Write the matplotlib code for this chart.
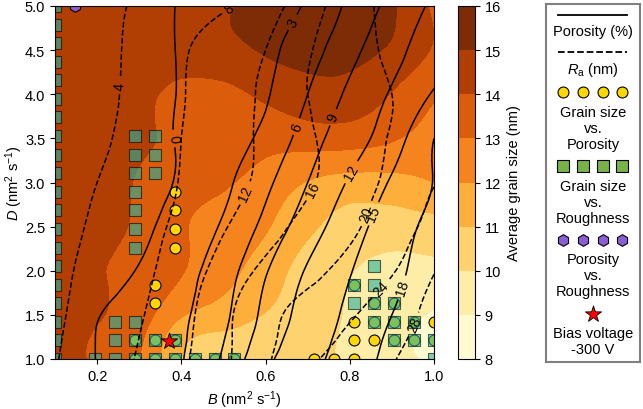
import numpy as np
import matplotlib
matplotlib.use("Agg")
import matplotlib.pyplot as plt
import matplotlib.tri as mtri

plt.rcParams.update({
    "font.family": "Liberation Sans",
    "font.size": 10.5,
    "mathtext.fontset": "custom",
    "mathtext.rm": "Liberation Sans",
    "mathtext.it": "Liberation Sans:italic",
})

# grid of the response surfaces
B_grid = [0.1, 0.2, 0.3, 0.4, 0.5, 0.6, 0.7, 0.8, 0.9, 1.0]
D_grid = [1.0, 1.25, 1.5, 2.0, 2.5, 3.0, 3.5, 4.0, 4.5, 5.0]

# average grain size (nm), one row per D value
grain = [
    [14.3, 13.9, 13.0, 11.0, 10.7, 10.45, 10.2, 9.85, 9.3, 8.9],
    [14.3, 13.95, 13.2, 11.3, 10.85, 10.55, 10.3, 9.85, 9.3, 8.7],
    [14.3, 14.05, 13.45, 12.1, 11.5, 10.95, 10.45, 9.9, 9.4, 8.9],
    [14.3, 14.1, 13.55, 13.05, 12.35, 11.5, 10.6, 10.05, 9.7, 9.75],
    [14.3, 14.15, 13.85, 13.1, 12.7, 12.1, 11.2, 10.6, 10.5, 10.6],
    [14.3, 14.15, 13.95, 13.5, 13.1, 12.6, 11.95, 11.6, 11.65, 12.0],
    [14.3, 14.2, 14.1, 13.8, 13.5, 13.35, 13.45, 13.45, 13.1, 12.7],
    [14.35, 14.3, 14.15, 13.8, 13.75, 14.2, 14.6, 14.6, 13.95, 13.1],
    [14.45, 14.45, 14.45, 14.5, 14.7, 15.1, 15.35, 15.3, 14.85, 13.9],
    [14.5, 14.55, 14.6, 14.7, 14.9, 15.35, 15.6, 15.5, 15.1, 13.8],
]

# porosity (%)
porosity = [
    [-1.8, 0.07, 1.47, 2.86, 6.46, 11.25, 14.04, 16.44, 18.84, 21.2],
    [-1.8, 0.07, 1.4, 2.73, 5.82, 10.4, 13.56, 16.0, 18.5, 21.0],
    [-2.2, -0.14, 1.23, 2.59, 5.33, 9.8, 13.1, 15.6, 18.0, 20.4],
    [-3.4, -1.6, 0.19, 2.06, 4.58, 8.75, 12.26, 14.85, 17.19, 19.5],
    [-3.4, -2.5, -0.8, 1.24, 3.33, 6.86, 10.58, 13.74, 16.5, 19.0],
    [-3.4, -2.6, -1.2, 0.31, 2.38, 5.33, 9.0, 12.3, 15.3, 18.1],
    [-3.0, -2.0, -0.9, 0.23, 1.77, 3.75, 7.5, 10.7, 13.7, 18.0],
    [-3.6, -2.4, -1.1, 0.19, 1.47, 2.74, 6.0, 9.55, 12.3, 15.3],
    [-3.2, -2.1, -0.96, 0.17, 1.30, 2.43, 4.67, 8.09, 11.04, 13.8],
    [-2.8, -1.8, -0.84, 0.15, 1.13, 2.11, 3.33, 6.67, 9.82, 12.55],
]

# roughness Ra (nm)
roughness = [
    [3.8, 6.0, 8.3, 11.3, 15.2, 19.4, 23.2, 25.7, 27.8, 29.5],
    [3.6, 5.84, 8.0, 11.0, 15.1, 19.05, 22.1, 24.7, 27.2, 29.0],
    [3.4, 5.6, 7.7, 10.7, 15.0, 18.8, 21.4, 23.6, 26.3, 29.1],
    [3.1, 5.1, 7.1, 9.83, 13.5, 16.8, 18.9, 21.2, 23.7, 27.8],
    [2.6, 4.6, 6.6, 8.86, 11.7, 14.57, 17.1, 19.3, 22.1, 25.0],
    [2.0, 4.0, 6.08, 8.18, 10.5, 12.9, 15.5, 18.1, 20.9, 23.8],
    [1.5, 3.2, 5.58, 8.0, 10.3, 12.74, 15.5, 17.9, 20.2, 21.0],
    [1.5, 2.9, 5.16, 7.74, 10.16, 12.75, 16.0, 18.0, 20.0, 21.0],
    [1.5, 3.0, 4.9, 7.5, 9.78, 12.0, 15.6, 18.4, 20.6, 21.5],
    [1.4, 2.9, 4.46, 6.0, 7.54, 10.33, 14.2, 18.2, 21.0, 22.0],
]

grain_levels = [8, 9, 10, 11, 12, 13, 14, 15, 16]
poro_levels = [0, 3, 6, 9, 12, 15, 18]
ra_levels = [4, 8, 12, 16, 20, 24, 28]

# grain size vs. porosity points
circ_B = [0.384, 0.384, 0.384, 0.384, 0.337, 0.337,
          0.289, 0.289, 0.337, 0.337, 0.384, 0.384, 0.432, 0.479, 0.526,
          0.716, 0.763, 0.811, 0.811, 0.811, 0.811,
          0.858, 0.858, 0.858, 0.905, 0.905, 0.905, 0.953, 0.953, 1.0, 1.0]
circ_D = [2.263, 2.474, 2.684, 2.895, 1.632, 1.842,
          1.0, 1.211, 1.0, 1.211, 1.0, 1.211, 1.0, 1.0, 1.0,
          1.0, 1.0, 1.0, 1.211, 1.421, 1.842,
          1.211, 1.421, 1.632, 1.211, 1.421, 1.632, 1.211, 1.421, 1.211, 1.421]

# grain size vs. roughness points
sq_B = [0.1] * 20 + [0.195, 0.242, 0.242, 0.242,
                     0.289, 0.289, 0.289, 0.289, 0.289, 0.289, 0.289, 0.289, 0.289, 0.289,
                     0.337, 0.337, 0.337, 0.337, 0.337, 0.384, 0.384, 0.432, 0.479, 0.526,
                     0.811, 0.811, 0.858, 0.858, 0.858, 0.858,
                     0.905, 0.905, 0.905, 0.953, 0.953, 1.0, 1.0]
sq_D = [1.0, 1.211, 1.421, 1.632, 1.842, 2.053, 2.263, 2.474, 2.684, 2.895,
        3.105, 3.316, 3.526, 3.737, 3.947, 4.158, 4.368, 4.579, 4.789, 5.0] + \
       [1.0, 1.0, 1.211, 1.421,
        1.0, 1.211, 1.421, 2.263, 2.474, 2.684, 2.895, 3.105, 3.316, 3.526,
        1.0, 1.211, 3.105, 3.316, 3.526, 1.0, 1.211, 1.0, 1.0, 1.0,
        1.632, 1.842, 1.421, 1.632, 1.842, 2.053,
        1.211, 1.421, 1.632, 1.211, 1.421, 1.0, 1.211]

# porosity vs. roughness points
hex_B = [0.147]
hex_D = [5.0]

# bias voltage -300 V
star_B = [0.37]
star_D = [1.2]

poro_label_pos = [(0.385, 3.5), (0.67, 4.8), (0.67, 3.64), (0.76, 3.74),
                  (0.81, 3.1), (0.85, 2.66), (0.91, 1.83)]
ra_label_pos = [(0.25, 4.1), (0.52, 4.93), (0.547, 2.89), (0.72, 2.9),
                (0.85, 2.62), (0.87, 1.82), (0.95, 1.4)]

yellow = "#ffd700"
teal = "#26b29e"
purple = "#8a5cd6"


fig = plt.figure(figsize=(6.43, 4.10), dpi=100)
ax = fig.add_axes([55 / 643, 50 / 410, 379 / 643, 353 / 410])
cax = fig.add_axes([458 / 643, 50 / 410, 17 / 643, 353 / 410])
lax = fig.add_axes([546 / 643, 47 / 410, 94 / 643, 358 / 410])

# smooth the coarse grids with matplotlib's own cubic refiner
BB, DD = np.meshgrid(B_grid, D_grid)
tri = mtri.Triangulation(BB.ravel(), DD.ravel())
refiner = mtri.UniformTriRefiner(tri)
tri_g, z_g = refiner.refine_field(np.array(grain).ravel(), subdiv=3)
tri_p, z_p = refiner.refine_field(np.array(porosity).ravel(), subdiv=3)
tri_r, z_r = refiner.refine_field(np.array(roughness).ravel(), subdiv=3)

cf = ax.tricontourf(tri_g, z_g, levels=grain_levels, cmap="YlOrBr", zorder=0)
cs_p = ax.tricontour(tri_p, z_p, levels=poro_levels, colors="k",
                     linewidths=1.1, linestyles="solid", zorder=3)
cs_r = ax.tricontour(tri_r, z_r, levels=ra_levels, colors="k",
                     linewidths=1.1, linestyles="dashed", zorder=3)
ax.clabel(cs_p, fmt="%d", fontsize=10, manual=poro_label_pos, inline=True)
ax.clabel(cs_r, fmt="%d", fontsize=10, manual=ra_label_pos, inline=True)

ax.scatter(circ_B, circ_D, s=62, c=yellow, edgecolors="k", linewidths=0.8, zorder=2)
ax.scatter(hex_B, hex_D, s=70, marker="h", c=purple, edgecolors="k", linewidths=0.8, zorder=2.1)
ax.scatter(sq_B, sq_D, s=70, marker="s", c=teal, alpha=0.6, edgecolors="k",
           linewidths=0.8, zorder=2.2)
ax.scatter(star_B, star_D, s=150, marker="*", c="red", edgecolors="k", linewidths=0.6, zorder=4)

ax.set_xlim(0.1, 1.0)
ax.set_ylim(1.0, 5.0)
ax.set_xticks([0.2, 0.4, 0.6, 0.8, 1.0])
ax.set_yticks(np.arange(1.0, 5.01, 0.5))
ax.xaxis.set_major_formatter(plt.FormatStrFormatter("%.1f"))
ax.yaxis.set_major_formatter(plt.FormatStrFormatter("%.1f"))
ax.set_xlabel(r"$\it{B}$ (nm$^2$ s$^{-1}$)")
ax.set_ylabel(r"$\it{D}$ (nm$^2$ s$^{-1}$)")
ax.yaxis.set_label_coords(-0.08, 0.5)

cb = fig.colorbar(cf, cax=cax, ticks=grain_levels)
cb.set_label("Average grain size (nm)")

# legend box, drawn by hand (handles above their text)
lax.set_xlim(0, 94)
lax.set_ylim(358, 0)
lax.set_xticks([])
lax.set_yticks([])
for sp in lax.spines.values():
    sp.set_color("#808080")
    sp.set_linewidth(1.5)

mx = [17, 37, 57, 76]
lax.plot([12, 81], [11, 11], color="k", lw=1.3)
lax.text(47, 27, "Porosity (%)", ha="center", va="center")
lax.plot([12, 81], [48, 48], color="k", lw=1.3, ls="--")
lax.text(47, 65, r"$\it{R}_\mathrm{a}$ (nm)", ha="center", va="center")
lax.scatter(mx, [88] * 4, s=62, c=yellow, edgecolors="k", linewidths=0.8)
lax.text(47, 124, "Grain size\nvs.\nPorosity", ha="center", va="center", linespacing=1.2)
lax.scatter(mx, [162] * 4, s=70, marker="s", c="#77b347", edgecolors="k", linewidths=0.8)
lax.text(47, 198, "Grain size\nvs.\nRoughness", ha="center", va="center", linespacing=1.2)
lax.scatter(mx, [236] * 4, s=70, marker="h", c=purple, edgecolors="k", linewidths=0.8)
lax.text(47, 271, "Porosity\nvs.\nRoughness", ha="center", va="center", linespacing=1.2)
lax.scatter([47], [310], s=150, marker="*", c="red", edgecolors="k", linewidths=0.6)
lax.text(47, 337, "Bias voltage\n-300 V", ha="center", va="center", linespacing=1.2)

fig.savefig("out.png", dpi=100)
